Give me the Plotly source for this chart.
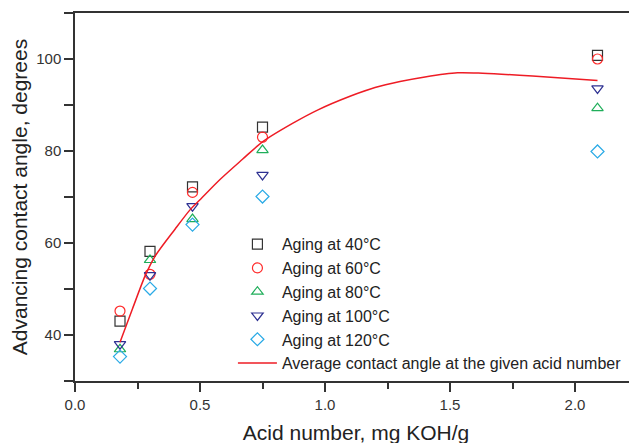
import plotly.graph_objects as go

acid = [0.18, 0.30, 0.47, 0.75, 2.09]
aging40 = [43.0, 58.2, 72.2, 85.2, 100.8]
aging60 = [45.2, 53.2, 71.0, 83.0, 100.0]
aging80 = [36.9, 56.3, 65.2, 80.2, 89.3]
aging100 = [38.0, 53.0, 68.0, 74.8, 93.6]
aging120 = [35.3, 50.1, 64.0, 70.1, 79.9]

avg_x = [0.18, 0.23, 0.28, 0.32, 0.40, 0.46, 0.50, 0.58, 0.67, 0.75, 0.87, 0.97,
         1.10, 1.20, 1.30, 1.40, 1.53, 1.63, 1.83, 2.09]
avg_y = [38.4, 45.7, 52.8, 57.1, 63.0, 67.2, 69.4, 73.8, 78.2, 82.0, 86.0, 88.9,
         91.9, 93.8, 95.1, 96.1, 97.0, 96.9, 96.3, 95.3]

x_ticks = [0.0, 0.5, 1.0, 1.5, 2.0]
x_ticklabels = ["0.0", "0.5", "1.0", "1.5", "2.0"]
y_ticks = [40, 60, 80, 100]

series = [
    ("Aging at 40°C", aging40, "square-open", "#333333"),
    ("Aging at 60°C", aging60, "circle-open", "#ff2a2a"),
    ("Aging at 80°C", aging80, "triangle-up-open", "#1fae5a"),
    ("Aging at 100°C", aging100, "triangle-down-open", "#2e3192"),
    ("Aging at 120°C", aging120, "diamond-open", "#2aaae6"),
]

fig = go.Figure()
for name, vals, sym, col in series:
    fig.add_trace(go.Scatter(
        x=acid, y=vals, mode="markers", name=name,
        marker=dict(symbol=sym, size=10, color=col, line=dict(width=1.2, color=col)),
    ))
fig.add_trace(go.Scatter(
    x=avg_x, y=avg_y, mode="lines", name="Average contact angle at the given acid number",
    line=dict(color="#ee1c25", width=1.5, shape="spline", smoothing=0.8),
))

font = "Liberation Sans, Arial, sans-serif"
fig.update_layout(
    width=637, height=443,
    margin=dict(l=67, r=8, t=5, b=70),
    paper_bgcolor="white", plot_bgcolor="white",
    font=dict(family=font, color="#222222"),
    showlegend=True,
    legend=dict(
        x=0.281, y=0.418, xanchor="left", yanchor="top",
        bgcolor="rgba(0,0,0,0)", font=dict(size=16, color="#222222"),
        tracegroupgap=0, itemwidth=39,
    ),
    xaxis=dict(
        range=[0, 2.248], tickvals=x_ticks, ticktext=x_ticklabels,
        showgrid=False, zeroline=False, automargin=False,
        showline=True, linecolor="#333333", linewidth=1.5, mirror=True,
        ticks="outside", ticklen=9, tickwidth=1.5, tickcolor="#333333",
        minor=dict(dtick=0.25, tick0=0, ticks="outside", ticklen=6, tickwidth=1.5, tickcolor="#333333"),
        tickfont=dict(size=15, color="#333333"),
        title=dict(text="Acid number, mg KOH/g", font=dict(size=21, color="#222222"), standoff=14),
    ),
    yaxis=dict(
        range=[30, 110], tickvals=y_ticks,
        showgrid=False, zeroline=False, automargin=False,
        showline=True, linecolor="#333333", linewidth=1.5,
        ticks="outside", ticklen=9, tickwidth=1.5, tickcolor="#333333",
        minor=dict(dtick=10, tick0=30, ticks="outside", ticklen=9, tickwidth=1.5, tickcolor="#333333"),
        tickfont=dict(size=15, color="#333333"),
        title=dict(text="Advancing contact angle, degrees", font=dict(size=21, color="#222222"), standoff=6),
    ),
)

fig.write_html("out.html")
